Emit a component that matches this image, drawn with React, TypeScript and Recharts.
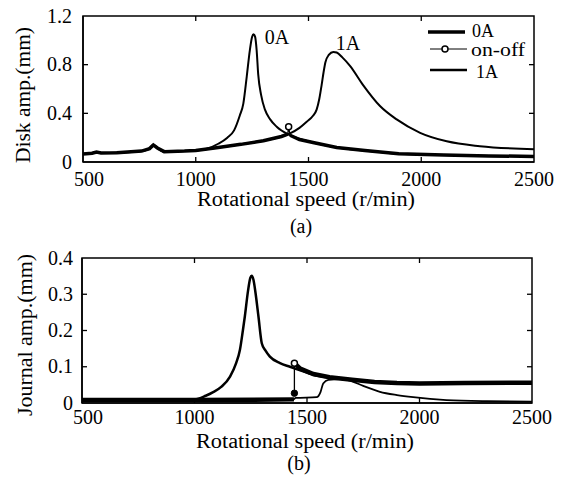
import React from 'react';
import { LineChart, Line, XAxis, YAxis } from 'recharts';

const FONT = '"Liberation Serif", "Times New Roman", Times, serif';
const FS = 20;

// ---------- shared axis ticks ----------
const speedTicks = [500, 1000, 1500, 2000, 2500];
const diskAmpTicks = [0, 0.4, 0.8, 1.2];
const journalAmpTicks = [0, 0.1, 0.2, 0.3, 0.4];

// ---------- (a) Disk amplitude ----------
const disk0ASpeed = [500, 540, 560, 580, 650, 760, 795, 812, 830, 860, 950, 1000, 1050, 1100, 1140, 1170, 1195, 1211, 1226, 1240, 1250, 1256, 1263, 1270, 1277, 1290, 1307, 1330, 1359, 1418, 1520, 1625, 1750, 1900, 2100, 2300, 2500];
const disk0AAmp = [0.065, 0.072, 0.082, 0.075, 0.077, 0.09, 0.11, 0.14, 0.115, 0.085, 0.09, 0.095, 0.11, 0.15, 0.2, 0.26, 0.38, 0.48, 0.7, 0.92, 1.03, 1.05, 1.03, 0.92, 0.72, 0.55, 0.43, 0.35, 0.29, 0.22, 0.16, 0.12, 0.095, 0.068, 0.058, 0.05, 0.046];

const disk1ASpeed = [500, 540, 560, 580, 650, 760, 795, 812, 830, 860, 950, 1000, 1100, 1200, 1300, 1380, 1418, 1460, 1492, 1520, 1536, 1548, 1558, 1567, 1575, 1590, 1610, 1625, 1650, 1684, 1743, 1817, 1891, 1995, 2113, 2260, 2500];
const disk1AAmp = [0.065, 0.072, 0.082, 0.075, 0.077, 0.09, 0.11, 0.14, 0.115, 0.085, 0.09, 0.095, 0.12, 0.145, 0.175, 0.21, 0.235, 0.28, 0.33, 0.38, 0.43, 0.52, 0.63, 0.74, 0.82, 0.88, 0.905, 0.9, 0.86, 0.79, 0.63, 0.46, 0.35, 0.24, 0.17, 0.13, 0.105];

// on-off: before switching, the switch itself, after switching
const diskOnOffBeforeSpeed = [500, 540, 560, 580, 650, 760, 795, 812, 830, 860, 950, 1000, 1100, 1200, 1300, 1380, 1408];
const diskOnOffBeforeAmp = [0.065, 0.072, 0.082, 0.075, 0.077, 0.09, 0.11, 0.14, 0.115, 0.085, 0.09, 0.095, 0.12, 0.145, 0.175, 0.21, 0.23];
const diskOnOffSwitchSpeed = [1408, 1412, 1418];
const diskOnOffSwitchAmp = [0.23, 0.29, 0.22];
const diskOnOffAfterSpeed = [1418, 1460, 1520, 1625, 1750, 1900, 2100, 2300, 2500];
const diskOnOffAfterAmp = [0.22, 0.185, 0.16, 0.12, 0.095, 0.068, 0.058, 0.05, 0.046];
const diskSwitchOpenIdx = [1];
const diskSwitchFilledIdx: number[] = [];

// ---------- (b) Journal amplitude ----------
const journal0ASpeed = [500, 1000, 1050, 1083, 1120, 1158, 1185, 1202, 1215, 1224, 1238, 1248, 1254, 1262, 1272, 1284, 1299, 1315, 1335, 1380, 1424, 1470, 1528, 1600, 1700, 1800, 1900, 2000, 2200, 2500];
const journal0AAmp = [0.008, 0.01, 0.02, 0.03, 0.045, 0.073, 0.11, 0.147, 0.2, 0.24, 0.31, 0.345, 0.351, 0.34, 0.3, 0.24, 0.165, 0.145, 0.128, 0.11, 0.1, 0.09, 0.078, 0.07, 0.064, 0.058, 0.055, 0.054, 0.055, 0.056];

const journal1ASpeed = [500, 1000, 1440, 1450, 1543, 1560, 1572, 1595, 1650, 1691, 1750, 1824, 1900, 1972, 2120, 2300, 2500];
const journal1AAmp = [0.008, 0.008, 0.01, 0.014, 0.016, 0.03, 0.054, 0.064, 0.066, 0.062, 0.047, 0.031, 0.022, 0.016, 0.008, 0.005, 0.004];

const journalOnOffBeforeSpeed = [500, 1000, 1442];
const journalOnOffBeforeAmp = [0.008, 0.008, 0.01];
const journalOnOffSwitchSpeed = [1444, 1444];
const journalOnOffSwitchAmp = [0.027, 0.11];
const journalOnOffAfterSpeed = [1444, 1470, 1528, 1600, 1700, 1800, 1900, 2000, 2200, 2500];
const journalOnOffAfterAmp = [0.11, 0.095, 0.08, 0.071, 0.064, 0.058, 0.055, 0.054, 0.055, 0.056];
const journalSwitchOpenIdx = [1];
const journalSwitchFilledIdx = [0];

type Pt = { x: number; y: number };
const toPoints = (xs: number[], ys: number[]): Pt[] => xs.map((x, i) => ({ x, y: ys[i] }));

const TICK_LEN = 5;
const FRAME_W = 1.5;
const TICK_W = 1.3;
const X_DOMAIN: [number, number] = [speedTicks[0], speedTicks[speedTicks.length - 1]];

interface Geometry {
  top: number;
  height: number;
  plotTop: number;
  plotBottom: number;
  plotLeft: number;
  plotRight: number;
  yDomain: [number, number];
  yTicks: number[];
}

const GEO_A: Geometry = { top: 0, height: 240, plotTop: 16, plotBottom: 162, plotLeft: 83, plotRight: 534, yDomain: [0, 1.2], yTicks: diskAmpTicks };
const GEO_B: Geometry = { top: 240, height: 241, plotTop: 18, plotBottom: 163, plotLeft: 82, plotRight: 532, yDomain: [0, 0.4], yTicks: journalAmpTicks };

function BottomTickLabel(props: any) {
  const { x, y, payload, labelOffset } = props;
  const dx = payload.value === 500 ? 6 : 0;
  return (
    <text x={x + dx} y={y + labelOffset} dy="0.33em" textAnchor="middle" fontFamily={FONT} fontSize={FS} fill="#000">
      {payload.value}
    </text>
  );
}

function LeftTickLabel(props: any) {
  const { x, y, payload, gap } = props;
  return (
    <text x={x - gap} y={y} dy="0.33em" textAnchor="end" fontFamily={FONT} fontSize={FS} fill="#000">
      {payload.value}
    </text>
  );
}

function makeMarkerDot(openIdx: number[], filledIdx: number[]) {
  return (props: any) => {
    const { cx, cy, index } = props;
    if (openIdx.includes(index)) {
      return <circle key={`m${index}`} cx={cx} cy={cy} r={3} fill="#fff" stroke="#000" strokeWidth={1.5} />;
    }
    if (filledIdx.includes(index)) {
      return <circle key={`m${index}`} cx={cx} cy={cy} r={3.2} fill="#000" stroke="#000" strokeWidth={1} />;
    }
    return <g key={`m${index}`} />;
  };
}

// box frame with inward ticks on all four sides (page coordinates)
function frameElements(g: Geometry, keyPrefix: string) {
  const L = g.plotLeft;
  const R = g.plotRight;
  const T = g.top + g.plotTop;
  const B = g.top + g.plotBottom;
  const sx = (v: number) => L + ((v - X_DOMAIN[0]) / (X_DOMAIN[1] - X_DOMAIN[0])) * (R - L);
  const sy = (v: number) => B - ((v - g.yDomain[0]) / (g.yDomain[1] - g.yDomain[0])) * (B - T);
  const innerX = speedTicks.slice(1, -1);
  const innerY = g.yTicks.slice(1, -1);
  return (
    <g key={keyPrefix}>
      <rect x={L} y={T} width={R - L} height={B - T} fill="none" stroke="#000" strokeWidth={FRAME_W} />
      {innerX.map((t) => (
        <g key={`${keyPrefix}x${t}`}>
          <line x1={sx(t)} y1={B} x2={sx(t)} y2={B - TICK_LEN} stroke="#000" strokeWidth={TICK_W} />
          <line x1={sx(t)} y1={T} x2={sx(t)} y2={T + TICK_LEN} stroke="#000" strokeWidth={TICK_W} />
        </g>
      ))}
      {innerY.map((t) => (
        <g key={`${keyPrefix}y${t}`}>
          <line x1={L} y1={sy(t)} x2={L + TICK_LEN} y2={sy(t)} stroke="#000" strokeWidth={TICK_W} />
          <line x1={R} y1={sy(t)} x2={R - TICK_LEN} y2={sy(t)} stroke="#000" strokeWidth={TICK_W} />
        </g>
      ))}
    </g>
  );
}

interface PanelProps {
  geo: Geometry;
  xLabelOffset: number;
  yLabelGap: number;
  s0A: Pt[];
  s1A: Pt[];
  onBefore: Pt[];
  onSwitch: Pt[];
  onAfter: Pt[];
  w0A: number;
  w1A: number;
  wOnOff: number;
  openIdx: number[];
  filledIdx: number[];
}

function Panel(p: PanelProps) {
  const W = 570;
  const g = p.geo;
  const xAxisHeight = g.height - g.plotBottom;
  const base = {
    dataKey: 'y',
    stroke: '#000',
    activeDot: false,
    isAnimationActive: false,
  } as const;
  return (
    <div style={{ position: 'absolute', left: 0, top: g.top, width: W, height: g.height }}>
      <LineChart
        width={W}
        height={g.height}
        margin={{ top: g.plotTop, right: W - g.plotRight, bottom: 0, left: 0 }}
      >
        <XAxis
          dataKey="x"
          type="number"
          domain={X_DOMAIN}
          ticks={speedTicks}
          interval={0}
          allowDataOverflow
          height={xAxisHeight}
          axisLine={{ stroke: '#000', strokeWidth: FRAME_W }}
          tickLine={false}
          tickSize={0}
          tickMargin={0}
          tick={(tp: any) => <BottomTickLabel {...tp} labelOffset={p.xLabelOffset} />}
        />
        <YAxis
          type="number"
          domain={g.yDomain}
          ticks={g.yTicks}
          interval={0}
          allowDataOverflow
          width={g.plotLeft}
          axisLine={{ stroke: '#000', strokeWidth: FRAME_W }}
          tickLine={false}
          tickSize={0}
          tickMargin={0}
          tick={(tp: any) => <LeftTickLabel {...tp} gap={p.yLabelGap} />}
        />
        <Line {...base} data={p.s1A} type="monotone" strokeWidth={p.w1A} dot={false} />
        <Line {...base} data={p.s0A} type="monotone" strokeWidth={p.w0A} dot={false} />
        <Line {...base} data={p.onBefore} type="linear" strokeWidth={p.wOnOff} dot={false} />
        <Line {...base} data={p.onAfter} type="linear" strokeWidth={p.wOnOff} dot={false} />
        <Line
          {...base}
          data={p.onSwitch}
          type="linear"
          strokeWidth={1.3}
          dot={makeMarkerDot(p.openIdx, p.filledIdx)}
        />
      </LineChart>
    </div>
  );
}

const txt = { fontFamily: FONT, fontSize: FS, fill: '#000' } as const;

export default function App() {
  return (
    <div style={{ position: 'absolute', left: 0, top: 0, width: 570, height: 481, background: '#fff', overflow: 'hidden' }}>
      <Panel
        geo={GEO_A}
        xLabelOffset={17}
        yLabelGap={11}
        s0A={toPoints(disk0ASpeed, disk0AAmp)}
        s1A={toPoints(disk1ASpeed, disk1AAmp)}
        onBefore={toPoints(diskOnOffBeforeSpeed, diskOnOffBeforeAmp)}
        onSwitch={toPoints(diskOnOffSwitchSpeed, diskOnOffSwitchAmp)}
        onAfter={toPoints(diskOnOffAfterSpeed, diskOnOffAfterAmp)}
        w0A={2}
        w1A={2}
        wOnOff={3.5}
        openIdx={diskSwitchOpenIdx}
        filledIdx={diskSwitchFilledIdx}
      />
      <Panel
        geo={GEO_B}
        xLabelOffset={14}
        yLabelGap={9}
        s0A={toPoints(journal0ASpeed, journal0AAmp)}
        s1A={toPoints(journal1ASpeed, journal1AAmp)}
        onBefore={toPoints(journalOnOffBeforeSpeed, journalOnOffBeforeAmp)}
        onSwitch={toPoints(journalOnOffSwitchSpeed, journalOnOffSwitchAmp)}
        onAfter={toPoints(journalOnOffAfterSpeed, journalOnOffAfterAmp)}
        w0A={2.5}
        w1A={1.8}
        wOnOff={4.5}
        openIdx={journalSwitchOpenIdx}
        filledIdx={journalSwitchFilledIdx}
      />
      <svg width={570} height={481} style={{ position: 'absolute', left: 0, top: 0, pointerEvents: 'none' }}>
        {frameElements(GEO_A, 'fa')}
        {frameElements(GEO_B, 'fb')}
        {/* panel (a) titles */}
        <text {...txt} x={0} y={0} dy="0.33em" textAnchor="middle" textLength={136} lengthAdjust="spacingAndGlyphs" transform="translate(23,95) rotate(-90)">Disk amp.(mm)</text>
        <text {...txt} x={306} y={199} dy="0.33em" textAnchor="middle" textLength={218} lengthAdjust="spacingAndGlyphs">Rotational speed (r/min)</text>
        <text {...txt} x={301} y={226} dy="0.33em" textAnchor="middle">(a)</text>
        <text {...txt} x={277} y={37} dy="0.33em" textAnchor="middle">0A</text>
        <text {...txt} x={348} y={43} dy="0.33em" textAnchor="middle">1A</text>
        {/* legend */}
        <line x1={428} y1={32} x2={465} y2={32} stroke="#000" strokeWidth={3.5} />
        <text {...txt} fontSize={18} x={472} y={31} dy="0.33em">0A</text>
        <line x1={430} y1={49} x2={467} y2={49} stroke="#000" strokeWidth={1} />
        <circle cx={445} cy={49} r={3} fill="#fff" stroke="#000" strokeWidth={1.5} />
        <text {...txt} fontSize={18} x={471} y={50} dy="0.33em" textLength={54} lengthAdjust="spacingAndGlyphs">on-off</text>
        <line x1={430} y1={70} x2={467} y2={70} stroke="#000" strokeWidth={2.5} />
        <text {...txt} fontSize={18} x={476} y={72} dy="0.33em">1A</text>
        {/* panel (b) titles */}
        <text {...txt} x={0} y={0} dy="0.33em" textAnchor="middle" textLength={162} lengthAdjust="spacingAndGlyphs" transform="translate(25,335) rotate(-90)">Journal amp.(mm)</text>
        <text {...txt} x={305} y={441} dy="0.33em" textAnchor="middle" textLength={218} lengthAdjust="spacingAndGlyphs">Rotational speed (r/min)</text>
        <text {...txt} x={299} y={463} dy="0.33em" textAnchor="middle">(b)</text>
      </svg>
    </div>
  );
}
